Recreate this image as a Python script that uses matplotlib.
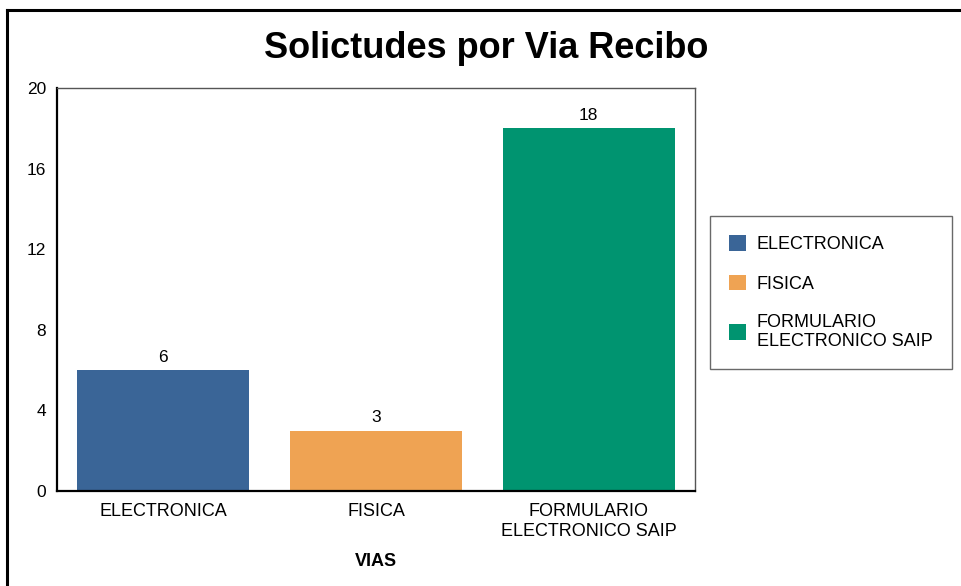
import matplotlib.pyplot as plt
from matplotlib.lines import Line2D

plt.rcParams['font.family'] = ['Liberation Sans', 'DejaVu Sans']

categorias = ['ELECTRONICA', 'FISICA', 'FORMULARIO\nELECTRONICO SAIP']
solicitudes = [6, 3, 18]
colores = ['#3A6597', '#EFA353', '#009470']
yticks = [0, 4, 8, 12, 16, 20]

fig = plt.figure(figsize=(9.61, 5.86), dpi=100)
ax = fig.add_axes([57 / 961, 1 - 491 / 586, 638 / 961, 403 / 586])

x = range(len(categorias))
bars = ax.bar(x, solicitudes, width=0.81, color=colores, label=categorias)
for b, v in zip(bars, solicitudes):
    ax.text(b.get_x() + b.get_width() / 2, v + 0.64, str(v),
            ha='center', va='center', fontsize=12.5)

ax.set_xlim(-0.5, 2.5)
ax.set_ylim(0, 20)
ax.set_yticks(yticks)
ax.set_xticks(list(x))
ax.set_xticklabels(categorias, fontsize=13, linespacing=1.2)
ax.tick_params(axis='y', length=0, pad=8, labelsize=12.5)
ax.tick_params(axis='x', length=0, pad=9)
ax.set_xlabel('VIAS', fontsize=13, fontweight='bold', labelpad=9)

ax.spines['left'].set_linewidth(1.6)
ax.spines['bottom'].set_linewidth(1.6)
for s in ['top', 'right']:
    ax.spines[s].set_color('#555555')
    ax.spines[s].set_linewidth(1)

fig.text(486 / 961, 1 - 49 / 586, 'Solictudes por Via Recibo',
         ha='center', va='center', fontsize=26, fontweight='bold')

leg = fig.legend(handles=bars, labels=categorias, loc='upper left',
                 bbox_to_anchor=(710 / 961, 1 - 216 / 586),
                 fontsize=13, frameon=True, fancybox=False,
                 handlelength=0.95, handleheight=0.95, handletextpad=0.6,
                 labelspacing=1.2, borderpad=1.05, borderaxespad=0)
leg.get_frame().set_edgecolor('#444444')
leg.get_frame().set_linewidth(1)
for t in leg.get_texts():
    t.set_linespacing(1.1)

# marco exterior
fig.add_artist(Line2D([7 / 961, 7 / 961], [0, 1 - 10 / 586], color='black', lw=2.2, transform=fig.transFigure))
fig.add_artist(Line2D([7 / 961, 1], [1 - 10 / 586, 1 - 10 / 586], color='black', lw=2.2, transform=fig.transFigure))

fig.savefig('out.png', dpi=100)
